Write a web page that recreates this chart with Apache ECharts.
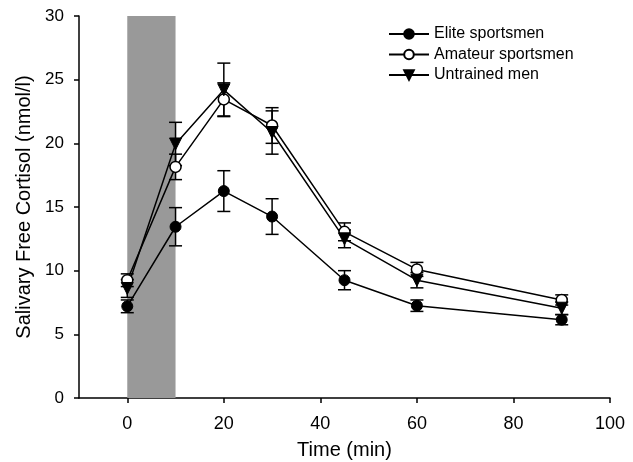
<!DOCTYPE html>
<html><head><meta charset="utf-8">
<script src="https://cdn.jsdelivr.net/npm/echarts@6/dist/echarts.min.js"></script>
<style>html,body{margin:0;padding:0;background:#fff}#c{width:633px;height:462px}</style>
</head><body><div id="c"></div>
<script>
var times = [0, 10, 20, 30, 45, 60, 90];
var eliteMean = [7.2, 13.45, 16.25, 14.25, 9.25, 7.25, 6.15];
var eliteErr = [0.5, 1.5, 1.6, 1.4, 0.75, 0.45, 0.4];
var amateurMean = [9.25, 18.15, 23.45, 21.4, 13.05, 10.1, 7.7];
var amateurErr = [0.5, 1.0, 1.3, 1.4, 0.7, 0.55, 0.4];
var untrainedMean = [8.6, 19.95, 24.2, 20.85, 12.5, 9.25, 7.05];
var untrainedErr = [0.7, 1.7, 2.1, 1.7, 0.7, 0.6, 0.5];
var seriesNames = ['Elite sportsmen', 'Amateur sportsmen', 'Untrained men'];
var exerciseBand = [0, 10];
var xTicks = [0, 20, 40, 60, 80, 100];
var font = 'Liberation Sans, Arial, sans-serif';

function pairs(m) { return times.map(function (t, i) { return [t, m[i]]; }); }
function errData(m, e) { return times.map(function (t, i) { return [t, m[i] - e[i], m[i] + e[i]]; }); }
function errSeries(m, e) {
  return {
    type: 'custom', silent: true, z: 1, legendHoverLink: false,
    data: errData(m, e),
    renderItem: function (params, api) {
      var lo = api.coord([api.value(0), api.value(1)]);
      var hi = api.coord([api.value(0), api.value(2)]);
      var w = 6.5;
      var st = { stroke: '#000', lineWidth: 1.5 };
      return { type: 'group', children: [
        { type: 'line', shape: { x1: lo[0], y1: lo[1], x2: hi[0], y2: hi[1] }, style: st },
        { type: 'line', shape: { x1: lo[0] - w, y1: lo[1], x2: lo[0] + w, y2: lo[1] }, style: st },
        { type: 'line', shape: { x1: hi[0] - w, y1: hi[1], x2: hi[0] + w, y2: hi[1] }, style: st }
      ]};
    }
  };
}

var chart = echarts.init(document.getElementById('c'), null, { renderer: 'canvas' });
chart.setOption({
  animation: false,
  backgroundColor: '#fff',
  grid: { left: 79, right: 23, top: 16, bottom: 64, containLabel: false, outerBoundsMode: 'none' },
  legend: {
    orient: 'vertical', left: 383, top: 21, itemGap: 4.5, itemWidth: 40, itemHeight: 12,
    data: seriesNames,
    textStyle: { fontFamily: font, fontSize: 16, color: '#000' }
  },
  xAxis: {
    type: 'value', min: -10, max: 100,
    name: 'Time (min)', nameLocation: 'middle', nameGap: 42,
    nameTextStyle: { fontFamily: font, fontSize: 20, color: '#000' },
    axisLine: { onZero: false, lineStyle: { color: '#000', width: 1.5 } },
    axisTick: { show: true, length: 5, lineStyle: { color: '#000', width: 1.5 }, customValues: xTicks },
    axisLabel: { fontFamily: font, fontSize: 18, color: '#000', margin: 17, customValues: xTicks },
    splitLine: { show: false }
  },
  yAxis: {
    type: 'value', min: 0, max: 30, interval: 5,
    name: 'Salivary Free Cortisol (nmol/l)', nameLocation: 'middle', nameGap: 43,
    nameTextStyle: { fontFamily: font, fontSize: 20, color: '#000' },
    axisLine: { show: true, onZero: false, lineStyle: { color: '#000', width: 1.5 } },
    axisTick: { show: true, length: 5, lineStyle: { color: '#000', width: 1.5 } },
    axisLabel: { fontFamily: font, fontSize: 17, color: '#000', margin: 15 },
    splitLine: { show: false }
  },
  series: [
    errSeries(eliteMean, eliteErr),
    errSeries(amateurMean, amateurErr),
    errSeries(untrainedMean, untrainedErr),
    {
      name: seriesNames[0], type: 'line', z: 3, data: pairs(eliteMean),
      symbol: 'circle', symbolSize: 11,
      lineStyle: { color: '#000', width: 1.5 },
      itemStyle: { color: '#000', borderColor: '#000', borderWidth: 1 },
      markArea: {
        silent: true,
        itemStyle: { color: '#999999' },
        data: [[{ xAxis: exerciseBand[0], yAxis: 0 }, { xAxis: exerciseBand[1], yAxis: 30 }]]
      }
    },
    {
      name: seriesNames[1], type: 'line', z: 3, data: pairs(amateurMean),
      symbol: 'circle', symbolSize: 11,
      lineStyle: { color: '#000', width: 1.5 },
      itemStyle: { color: '#fff', borderColor: '#000', borderWidth: 1.5 }
    },
    {
      name: seriesNames[2], type: 'line', z: 3, data: pairs(untrainedMean),
      symbol: 'triangle', symbolSize: 12, symbolRotate: 180,
      lineStyle: { color: '#000', width: 1.5 },
      itemStyle: { color: '#000', borderColor: '#000', borderWidth: 1 }
    }
  ]
});
</script>
</body></html>
